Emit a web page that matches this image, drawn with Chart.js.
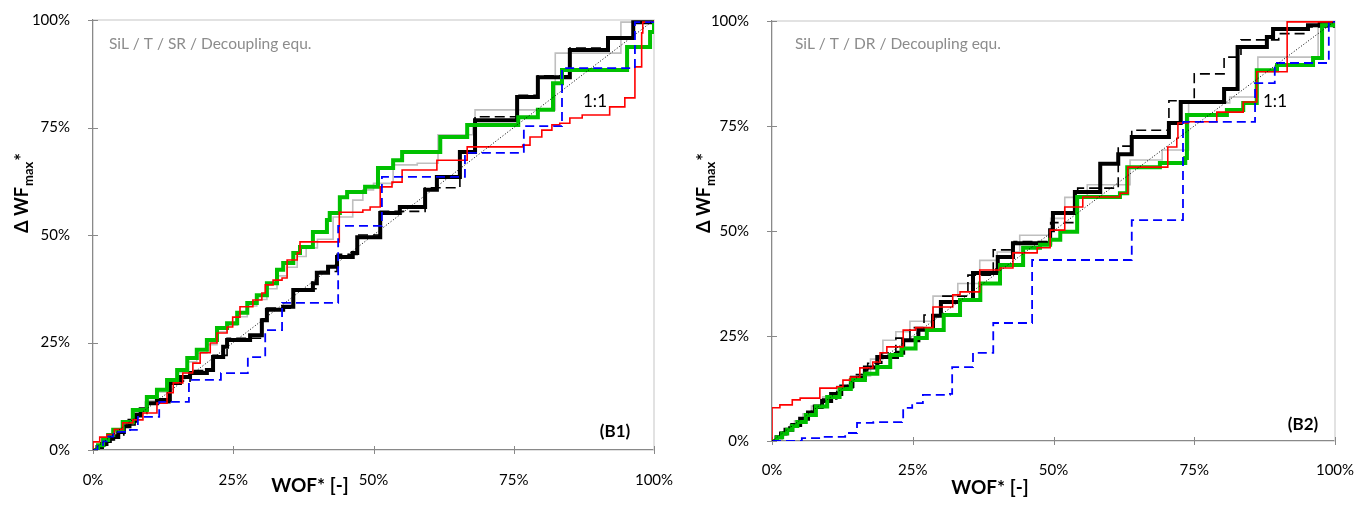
<!DOCTYPE html>
<html>
<head>
<meta charset="utf-8">
<script src="https://cdn.jsdelivr.net/npm/chart.js@4.4.1/dist/chart.umd.min.js"></script>
<style>
  body{margin:0;background:#fff;width:1359px;height:507px;overflow:hidden;position:relative;}
  canvas{position:absolute;top:0;}
  #chartB1{left:0;}
  #chartB2{left:680px;}
</style>
</head>
<body>
<canvas id="chartB1" width="680" height="507"></canvas>
<canvas id="chartB2" width="679" height="507"></canvas>
<script>
/* axis ticks (percent) */
const pctTicks = [0, 25, 50, 75, 100];
const oneToOne = [[0, 0], [100, 100]];

/* panel B1 : SiL / T / SR  -- [WOF*, dWFmax*] in % */
const b1Gray = [[0,0],[0.9,1.0],[1.8,2.1],[2.7,3.1],[3.6,4.0],[5.3,6.0],[7.1,8.6],[9.6,11.5],[11.4,13.5],[13.2,15.8],[15.0,18.0],[16.8,20.5],[18.5,22.5],[20.3,24.5],[22.1,27.5],[23.9,29.0],[25.7,31.0],[27.5,33.5],[29.2,35.0],[31.0,37.5],[32.8,40.5],[34.6,42.5],[36.4,45.0],[38.0,47.0],[40.0,49.0],[42.8,54.2],[46.3,58.1],[48.1,60.5],[50.0,62.0],[53.5,66.3],[57.8,66.7],[61.5,73.3],[67.7,75.6],[68.1,79.1],[82.4,92.3],[94.1,99.5],[100,100]];
const b1Black = [[0,0],[0.8,0.7],[1.6,1.4],[2.4,2.1],[3.0,2.6],[3.6,3.0],[4.5,4.2],[5.5,5.5],[6.5,6.8],[7.5,8.0],[8.5,9.5],[9.6,10.9],[11.4,11.6],[13.7,15.6],[15.5,17.0],[17.3,17.9],[20.3,18.6],[21.4,21.6],[23.2,24.0],[23.9,25.6],[28.0,26.7],[30.1,30.2],[31.0,32.6],[33.9,33.3],[35.7,37.2],[39.2,38.8],[39.9,41.2],[41.9,42.6],[43.5,44.9],[46.3,45.8],[47.1,49.5],[51.2,55.1],[54.7,56.5],[59.2,60.5],[61.3,63.5],[65.4,69.3],[68.1,76.7],[75.6,82.1],[79.3,86.7],[85.0,93.0],[91.8,95.8],[96.3,99.5],[100,100]];
const b1BlackDash = [[0,0],[1.0,1.0],[2.2,2.2],[3.6,3.5],[5.5,5.8],[7.5,8.5],[9.6,11.0],[13.7,16.0],[17.3,18.5],[21.4,22.0],[23.9,26.0],[30.1,30.5],[31.0,33.0],[35.7,37.5],[39.9,41.5],[43.5,45.5],[47.1,50.0],[51.2,55.5],[59.2,61.0],[65.4,69.5],[68.1,77.5],[75.6,82.5],[79.3,87.0],[85.0,93.5],[91.8,96.0],[96.3,99.5],[100,100]];
const b1Green = [[0,0],[0.9,1.1],[1.8,2.3],[2.7,3.5],[3.6,4.7],[5.3,6.5],[7.1,9.3],[9.6,12.3],[11.4,14.0],[13.2,16.3],[15.0,18.6],[16.8,21.4],[18.5,23.3],[20.3,25.6],[22.1,28.4],[23.9,29.5],[25.7,31.9],[27.5,34.2],[29.2,36.0],[31.0,38.8],[32.8,41.9],[33.9,43.5],[35.7,45.8],[36.9,47.2],[39.2,50.7],[41.7,53.5],[42.2,55.1],[44.0,58.8],[45.3,60.0],[48.5,61.2],[50.8,65.6],[53.5,67.4],[55.1,69.3],[61.9,72.8],[66.7,75.6],[75.8,77.4],[79.3,79.1],[82.0,85.3],[83.6,88.4],[95.2,93.7],[99.3,97.2],[100,100]];
const b1Red = [[0,0],[0,1.9],[1.2,3.0],[2.5,3.6],[3.8,4.8],[5.3,6.3],[7.1,7.0],[8.9,8.6],[11.4,10.9],[13.2,13.3],[14.3,15.6],[16.0,17.9],[17.8,20.2],[19.1,22.6],[20.9,24.9],[22.1,27.2],[23.9,28.6],[24.9,30.9],[26.2,33.3],[28.5,34.9],[30.1,36.5],[30.7,38.4],[32.1,39.5],[33.7,40.0],[34.6,44.2],[36.4,45.8],[36.9,48.4],[43.9,55.3],[48.1,55.8],[49.4,56.5],[51.2,61.2],[53.3,62.3],[55.1,65.1],[61.3,67.4],[66.7,70.5],[76.6,70.9],[77.9,72.8],[80.0,74.4],[81.8,75.6],[83.2,76.0],[85.0,77.2],[87.2,77.9],[92.1,79.8],[94.8,81.9],[96.6,89.1],[97.8,97.0],[98.0,99.5],[100,100]];
const b1Blue = [[0,0],[0.8,0.9],[1.8,2.0],[2.7,3.1],[3.6,4.2],[6.6,4.7],[8.0,7.7],[11.8,11.2],[17.1,16.3],[22.8,17.9],[27.6,21.6],[30.7,27.9],[33.7,34.2],[43.7,52.1],[51.5,63.5],[66.3,69.1],[76.8,75.3],[83.6,88.8],[96.6,99.5],[100,100]];

/* panel B2 : SiL / T / DR */
const b2Gray = [[0,0],[0.8,1.0],[1.6,2.0],[2.4,2.9],[3.2,3.8],[4.0,4.8],[5.5,6.5],[7.0,8.3],[9.0,10.5],[11.5,13.0],[14.0,15.5],[17.5,19.5],[19.7,24.0],[22.0,26.0],[24.5,28.5],[28.6,34.5],[33.0,37.5],[36.9,43.0],[40.0,45.0],[44.0,49.0],[49.5,53.0],[52.0,58.0],[56.0,61.0],[63.6,66.9],[69.3,69.3],[74.0,80.5],[81.3,81.9],[86.3,91.4],[97.0,99.5],[100,100]];
const b2Black = [[0,0],[0.8,0.9],[1.6,1.8],[2.4,2.7],[3.6,3.8],[5.0,5.3],[6.4,6.8],[7.6,8.2],[8.9,9.5],[10.5,11.2],[12.3,13.0],[14.2,15.0],[16.5,17.5],[18.7,20.0],[22.2,21.0],[23.3,24.0],[26.0,26.5],[28.6,29.8],[30.0,33.1],[33.4,33.6],[35.7,40.0],[40.0,40.7],[40.1,43.8],[42.8,47.1],[49.4,50.2],[49.9,54.3],[53.8,59.3],[58.3,66.0],[61.5,68.3],[63.9,72.4],[70.5,75.7],[72.6,80.7],[80.3,83.8],[82.7,93.8],[87.9,96.2],[89.0,98.1],[95.2,99.0],[97.3,99.8],[100,100]];
const b2BlackDash = [[0,0],[1.0,1.1],[2.0,2.2],[3.0,3.3],[4.0,4.5],[5.5,6.0],[7.0,7.8],[9.0,10.0],[11.5,12.8],[14.5,15.8],[17.0,18.5],[19.5,21.0],[22.0,24.5],[24.5,27.0],[27.0,30.0],[30.0,34.5],[34.8,39.5],[39.3,45.5],[43.0,47.5],[49.5,52.0],[54.3,60.2],[61.5,70.2],[63.9,74.0],[70.5,81.0],[75.0,87.4],[80.3,91.4],[83.3,95.5],[90.0,97.0],[95.0,98.6],[100,100]];
const b2Green = [[0,0],[0.9,0.9],[1.8,1.8],[2.7,2.7],[3.6,3.6],[4.5,4.5],[6.0,6.2],[7.8,8.2],[9.8,10.5],[12.0,12.4],[14.0,14.5],[16.5,16.0],[18.7,17.6],[21.0,20.5],[23.0,22.0],[25.5,24.5],[27.5,26.4],[30.5,30.0],[33.4,33.6],[37.0,37.5],[40.5,41.9],[44.6,46.0],[47.6,46.7],[49.4,47.9],[51.2,49.8],[54.2,58.1],[61.8,59.0],[63.1,65.2],[68.9,66.2],[73.4,67.4],[73.7,77.6],[80.8,78.8],[83.7,80.5],[86.1,88.3],[89.7,89.5],[96.1,91.2],[97.7,99.0],[100,100]];
const b2Red = [[0,0],[0,7.9],[1.4,8.6],[3.6,9.8],[5.0,10.2],[8.5,12.6],[11.5,12.9],[12.6,14.5],[13.9,15.2],[15.6,17.4],[17.9,18.8],[19.2,21.0],[20.4,22.4],[23.3,26.4],[25.5,27.0],[28.6,31.9],[32.1,34.8],[33.4,35.5],[36.9,40.7],[40.5,41.2],[42.8,44.8],[47.1,46.0],[49.4,50.2],[52.0,55.7],[55.2,58.1],[61.8,59.0],[63.2,65.2],[70.3,70.0],[71.9,72.1],[72.1,75.7],[73.9,76.0],[79.0,78.3],[83.7,80.7],[86.1,87.9],[91.5,99.8],[100,100]];
const b2Blue = [[0,0],[5.3,0.7],[8.9,1.0],[13.0,1.9],[15.1,4.3],[18.0,4.5],[23.1,5.0],[23.3,7.9],[24.9,9.0],[26.8,11.0],[31.6,11.2],[32.0,17.6],[35.7,21.0],[39.3,28.1],[46.2,43.1],[63.9,52.6],[73.0,76.0],[85.8,85.2],[89.3,90.0],[98.9,99.8],[100,100]];

const FONT = 'Lato';

function line(pairs, color, width, dash, step){
  return {
    data: pairs.map(p => ({x: p[0], y: p[1]})),
    borderColor: color,
    borderWidth: width,
    borderDash: dash || [],
    stepped: step === false ? false : true,
    pointRadius: 0,
    fill: false,
    tension: 0
  };
}

/* scale boxes get a fixed size, no automatic label padding */
function fixBox(size, horizontal){
  return s => {
    if (horizontal) s.height = size; else s.width = size;
    s.paddingTop = s.paddingBottom = s.paddingLeft = s.paddingRight = 0;
  };
}

/* everything the library does not draw: borders, cross ticks, texts */
function decor(o){
  return {
    id: 'decor',
    beforeDatasetsDraw(chart){
      const {ctx, chartArea: a, scales: {x, y}} = chart;
      ctx.save();
      ctx.strokeStyle = '#d9d9d9';
      ctx.lineWidth = 1.5;
      ctx.beginPath();
      ctx.moveTo(a.left, a.top);
      ctx.lineTo(a.right, a.top);
      ctx.lineTo(a.right, a.bottom);
      ctx.stroke();
      ctx.strokeStyle = '#898989';
      ctx.lineWidth = 1;
      ctx.beginPath();
      pctTicks.forEach(v => {
        const px = Math.round(x.getPixelForValue(v)) + 0.5;
        ctx.moveTo(px, a.bottom - 4); ctx.lineTo(px, a.bottom + 4);
        const py = Math.round(y.getPixelForValue(v)) + 0.5;
        ctx.moveTo(a.left - 5, py); ctx.lineTo(a.left + 5, py);
      });
      ctx.stroke();
      ctx.restore();
    },
    afterDraw(chart){
      const ctx = chart.ctx;
      ctx.save();
      ctx.textBaseline = 'alphabetic';
      // panel caption
      ctx.fillStyle = '#8c8c8c';
      ctx.font = '15.5px ' + FONT;
      ctx.textAlign = 'left';
      ctx.fillText(o.caption, o.capX, 49);
      // 1:1 and panel id
      ctx.fillStyle = '#000';
      ctx.textAlign = 'center';
      ctx.font = '17px ' + FONT;
      ctx.fillText('1:1', 595, 107);
      ctx.font = 'bold 17px ' + FONT;
      ctx.fillText(o.id, o.idX, o.idY);
      // x title
      ctx.font = 'bold 19px ' + FONT;
      ctx.fillText('WOF* [-]', 310, o.xtY);
      // y title with subscript
      ctx.translate(o.ytX, 233);
      ctx.rotate(-Math.PI / 2);
      ctx.textAlign = 'left';
      ctx.font = 'bold 18px ' + FONT;
      ctx.fillText('Δ WF', 0, 0);
      const w1 = ctx.measureText('Δ WF').width;
      ctx.font = 'bold 13px ' + FONT;
      ctx.fillText('max', w1 + 1, 5);
      const w2 = ctx.measureText('max').width;
      ctx.font = 'bold 18px ' + FONT;
      ctx.fillText('*', w1 + w2 + 2, 0);
      ctx.restore();
    }
  };
}

function makeChart(id, series, o){
  return new Chart(document.getElementById(id), {
    type: 'line',
    data: {
      datasets: [
        line(oneToOne, '#000', 1, [1, 2], false),
        line(series.blue, '#0000ff', 1.8, [9, 5]),
        line(series.red, '#ff0000', 1.6),
        line(series.green, '#00c000', 4),
        line(series.blackDash, '#000', 1.6, [10, 5]),
        line(series.black, '#000', 4),
        line(series.gray, '#bfbfbf', 1.6)
      ]
    },
    options: {
      responsive: false,
      animation: false,
      devicePixelRatio: 1,
      layout: {autoPadding: false, padding: {left: 0, right: o.padR, top: o.padT, bottom: 0}},
      plugins: {legend: {display: false}, tooltip: {enabled: false}},
      scales: {
        x: {
          type: 'linear', min: 0, max: 100,
          afterFit: fixBox(o.xH, true),
          afterBuildTicks: s => { s.ticks = pctTicks.map(v => ({value: v})); },
          ticks: {callback: v => v + '%', color: '#000', font: {family: FONT, size: 15}, padding: o.xPad, maxRotation: 0},
          grid: {display: false},
          border: {display: true, color: '#898989', width: 1.3}
        },
        y: {
          type: 'linear', min: 0, max: 100,
          afterFit: fixBox(o.yW, false),
          afterBuildTicks: s => { s.ticks = pctTicks.map(v => ({value: v})); },
          ticks: {callback: v => v + '%', color: '#000', font: {family: FONT, size: 15}, padding: 15},
          grid: {display: false},
          border: {display: true, color: '#898989', width: 1.3}
        }
      }
    },
    plugins: [decor(o)]
  });
}

makeChart('chartB1',
  {gray: b1Gray, black: b1Black, blackDash: b1BlackDash, green: b1Green, red: b1Red, blue: b1Blue},
  {padR: 26, padT: 20, xH: 57, yW: 93, xPad: 13, caption: 'SiL / T / SR / Decoupling equ.', capX: 109,
   id: '(B1)', idX: 615, idY: 437, xtY: 492, ytX: 28});

makeChart('chartB2',
  {gray: b2Gray, black: b2Black, blackDash: b2BlackDash, green: b2Green, red: b2Red, blue: b2Blue},
  {padR: 24, padT: 21, xH: 66, yW: 92, xPad: 12, caption: 'SiL / T / DR / Decoupling equ.', capX: 115,
   id: '(B2)', idX: 623, idY: 430, xtY: 494, ytX: 30});
</script>
</body>
</html>
